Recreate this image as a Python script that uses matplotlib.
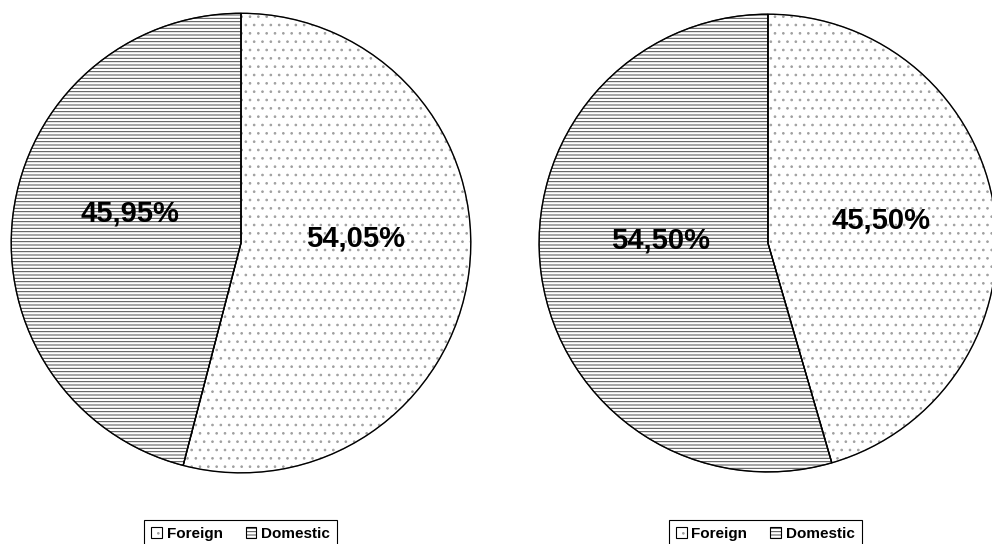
import matplotlib
matplotlib.use("Agg")
import matplotlib.pyplot as plt
from matplotlib.patches import Patch

plt.rcParams['font.family'] = ['Liberation Sans', 'DejaVu Sans']
plt.rcParams['hatch.linewidth'] = 0.7

# shares for the two periods (percent)
categories = ['Foreign', 'Domestic']
shares_left = [54.05, 45.95]
shares_right = [45.50, 54.50]

hatches = ['..', '-----']
hatch_colors = ['#a0a0a0', '#4a4a4a']

# where each percentage label sits, in pie radius units
label_pos_left = [(0.50, 0.02), (-0.485, 0.13)]
label_pos_right = [(0.495, 0.10), (-0.47, 0.013)]

fig = plt.figure(figsize=(9.92, 5.44), dpi=100)


def draw_pie(rect, shares, label_pos, legend_x):
    ax = fig.add_axes(rect)
    # hatched fill first (hatch takes the edge colour), black outlines on top
    wedges, _ = ax.pie(shares, startangle=90, counterclock=False, radius=1,
                       colors=['white', 'white'], wedgeprops=dict(linewidth=0.8))
    for w, h, c in zip(wedges, hatches, hatch_colors):
        w.set_hatch(h)
        w.set_edgecolor(c)
    ax.pie(shares, startangle=90, counterclock=False, radius=1,
           wedgeprops=dict(fill=False, edgecolor='black', linewidth=1.0))
    for val, (x, y) in zip(shares, label_pos):
        ax.text(x, y, f"{val:.2f}%".replace('.', ','), ha='center', va='center',
                fontsize=21, fontweight='bold')
    ax.set_xlim(-1.005, 1.005)
    ax.set_ylim(-1.005, 1.005)
    ax.set_aspect('equal')
    ax.axis('off')

    # legend keys: grey hatch with a black square outline
    handles = []
    for h, c in zip(hatches, hatch_colors):
        fill = Patch(facecolor='white', edgecolor=c, hatch=h, linewidth=0)
        box = Patch(fill=False, edgecolor='black', linewidth=0.8)
        handles.append((fill, box))
    leg = fig.legend(handles, categories, loc='upper center',
                     bbox_to_anchor=(legend_x, 0.045), bbox_transform=fig.transFigure,
                     ncol=2, fancybox=False, edgecolor='black', framealpha=1,
                     prop=dict(weight='bold', size=11),
                     handlelength=0.7, handleheight=0.7, handletextpad=0.3,
                     columnspacing=1.5, borderpad=0.5, borderaxespad=0)
    leg.get_frame().set_linewidth(0.8)


draw_pie([0.0101, 0.1287, 0.4657, 0.849], shares_left, label_pos_left, 0.2425)
draw_pie([0.5423, 0.1287, 0.4637, 0.849], shares_right, label_pos_right, 0.7715)

fig.savefig('out.png', dpi=100, facecolor='white')
